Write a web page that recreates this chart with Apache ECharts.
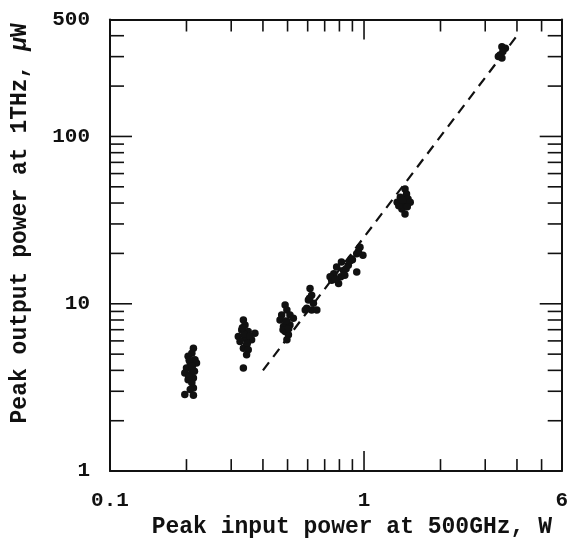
<!DOCTYPE html>
<html>
<head>
<meta charset="utf-8">
<script src="https://cdn.jsdelivr.net/npm/echarts@6/dist/echarts.min.js"></script>
<style>html,body{margin:0;padding:0;background:#fff;}#c{width:571px;height:544px;}</style>
</head>
<body>
<div id="c"></div>
<script>
// ---- data ----
const xMin = 0.1, xMax = 6, yMin = 1, yMax = 500;
const xLabelValues = [0.1, 1, 6];
const yLabelValues = [1, 10, 100, 500];
const xTickValues = [0.2, 0.3, 0.4, 0.5, 0.6, 0.7, 0.8, 0.9, 1, 2, 3, 4, 5];
const xMajorTicks = [1];
const yTickValues = [2, 3, 4, 5, 6, 7, 8, 9, 10, 20, 30, 40, 50, 60, 70, 80, 90, 100, 200, 300, 400];
const yMajorTicks = [10, 100];

const inputPower = [
  0.213, 0.210, 0.203, 0.216, 0.219, 0.207, 0.200, 0.210, 0.197, 0.207, 0.213, 0.203, 0.210, 0.213, 0.207, 0.197, 0.213, 0.205, 0.215, 0.211, 0.204,
  0.335, 0.340, 0.330, 0.350, 0.372, 0.320, 0.340, 0.361, 0.325, 0.345, 0.335, 0.350, 0.345, 0.335, 0.338, 0.355, 0.332, 0.347,
  0.489, 0.497, 0.474, 0.511, 0.527, 0.467, 0.497, 0.482, 0.511, 0.489, 0.504, 0.497, 0.480, 0.492, 0.505,
  0.613, 0.622, 0.604, 0.632, 0.595, 0.622, 0.652, 0.587, 0.610,
  0.964, 0.990, 0.936, 0.891, 0.815, 0.867, 0.936, 0.780, 0.830, 0.760, 0.810, 0.746, 0.794, 0.840, 0.735, 0.950, 0.880, 0.900, 0.850, 0.770,
  1.45, 1.47, 1.39, 1.49, 1.35, 1.43, 1.52, 1.41, 1.45, 1.37, 1.42, 1.48,
  3.49, 3.60, 3.52, 3.43, 3.49, 3.38
];
const outputPower = [
  5.43, 5.07, 4.85, 4.63, 4.42, 4.42, 4.13, 4.03, 3.86, 3.77, 3.60, 3.52, 3.37, 3.14, 3.07, 2.87, 2.84, 4.60, 3.95, 4.25, 3.65,
  8.0, 7.47, 6.98, 6.83, 6.67, 6.37, 6.23, 6.09, 5.96, 5.69, 5.43, 5.31, 4.96, 4.13, 6.6, 6.4, 7.2, 5.8,
  9.83, 9.18, 8.57, 8.57, 8.19, 8.0, 7.83, 7.31, 7.47, 6.83, 6.52, 6.09, 7.0, 7.9, 7.1,
  12.35, 11.26, 10.52, 10.06, 9.39, 9.18, 9.18, 9.18, 10.8,
  21.8, 19.5, 19.9, 18.6, 17.8, 17.0, 15.5, 16.6, 15.8, 15.1, 14.5, 13.8, 13.2, 14.8, 14.5, 20.5, 18.0, 18.3, 16.2, 14.0,
  48.5, 45.3, 43.3, 42.3, 40.4, 39.5, 40.4, 36.9, 34.4, 38.6, 41.5, 38.0,
  344, 337, 322, 307, 294, 300
];
const fitX = [0.4, 4];
const fitY = [4, 400];

// ---- chart ----
const FONT = '"Liberation Mono", "DejaVu Sans Mono", monospace';
const INK = '#111';
const chart = echarts.init(document.getElementById('c'), null, {renderer: 'canvas'});

const scatterData = inputPower.map((x, i) => [x, outputPower[i]]);
const fitData = fitX.map((x, i) => [x, fitY[i]]);

function xTickItem(params, api) {
  const v = api.value(0);
  const cs = params.coordSys;
  const px = api.coord([v, yMin])[0];
  const len = xMajorTicks.indexOf(v) >= 0 ? 20 : 12;
  const st = {stroke: INK, lineWidth: 1.6};
  return {type: 'group', children: [
    {type: 'line', shape: {x1: px, y1: cs.y + cs.height, x2: px, y2: cs.y + cs.height - len}, style: st},
    {type: 'line', shape: {x1: px, y1: cs.y, x2: px, y2: cs.y + len}, style: st}
  ]};
}
function yTickItem(params, api) {
  const v = api.value(1);
  const cs = params.coordSys;
  const py = api.coord([xMin, v])[1];
  const len = yMajorTicks.indexOf(v) >= 0 ? 22 : 14;
  const st = {stroke: INK, lineWidth: 1.6};
  return {type: 'group', children: [
    {type: 'line', shape: {x1: cs.x, y1: py, x2: cs.x + len, y2: py}, style: st},
    {type: 'line', shape: {x1: cs.x + cs.width, y1: py, x2: cs.x + cs.width - len, y2: py}, style: st}
  ]};
}

const labelStyle = {color: INK, fontFamily: FONT, fontWeight: 'bold', fontSize: 21};
const lineStyle = {color: INK, width: 2};

chart.setOption({
  animation: false,
  backgroundColor: '#fff',
  grid: {left: 110, right: 9, top: 19.5, bottom: 70.3, containLabel: false},
  xAxis: [{
    type: 'log', logBase: 10, min: xMin, max: xMax, position: 'bottom',
    name: 'Peak input power at 500GHz, W', nameLocation: 'middle', nameGap: 42,
    nameTextStyle: {color: INK, fontFamily: FONT, fontWeight: 'bold', fontSize: 23, padding: [0, 0, 0, 32]},
    axisLine: {show: true, lineStyle: lineStyle},
    axisTick: {show: false}, minorTick: {show: false},
    splitLine: {show: false}, minorSplitLine: {show: false},
    axisLabel: Object.assign({customValues: xLabelValues, margin: 19,
      formatter: v => String(+v.toPrecision(3))}, labelStyle)
  }, {
    type: 'log', logBase: 10, min: xMin, max: xMax, position: 'top',
    axisLine: {show: true, lineStyle: lineStyle}, axisTick: {show: false},
    axisLabel: {show: false}, splitLine: {show: false}
  }],
  yAxis: [{
    type: 'log', logBase: 10, min: yMin, max: yMax, position: 'left',
    name: 'Peak output power at 1THz, {i|µ}W', nameLocation: 'middle', nameGap: 78,
    nameTextStyle: {color: INK, fontFamily: FONT, fontWeight: 'bold', fontSize: 23, padding: [0, 0, 0, 44],
      rich: {i: {fontFamily: FONT, fontWeight: 'bold', fontStyle: 'italic', fontSize: 23, color: INK}}},
    axisLine: {show: true, lineStyle: lineStyle},
    axisTick: {show: false}, minorTick: {show: false},
    splitLine: {show: false}, minorSplitLine: {show: false},
    axisLabel: Object.assign({customValues: yLabelValues, margin: 20,
      formatter: v => String(+v.toPrecision(3))}, labelStyle)
  }, {
    type: 'log', logBase: 10, min: yMin, max: yMax, position: 'right',
    axisLine: {show: true, lineStyle: lineStyle}, axisTick: {show: false},
    axisLabel: {show: false}, splitLine: {show: false}
  }],
  series: [{
    type: 'custom', renderItem: xTickItem, silent: true, clip: false,
    data: xTickValues.map(v => [v, yMin]), z: 3
  }, {
    type: 'custom', renderItem: yTickItem, silent: true, clip: false,
    data: yTickValues.map(v => [xMin, v]), z: 3
  }, {
    type: 'line', data: fitData, symbol: 'none', silent: true,
    lineStyle: {color: INK, width: 2.2, type: [10, 7]}, z: 2
  }, {
    type: 'scatter', data: scatterData, symbol: 'circle', symbolSize: 7.5,
    itemStyle: {color: INK, opacity: 1}, z: 4
  }]
});
</script>
</body>
</html>
